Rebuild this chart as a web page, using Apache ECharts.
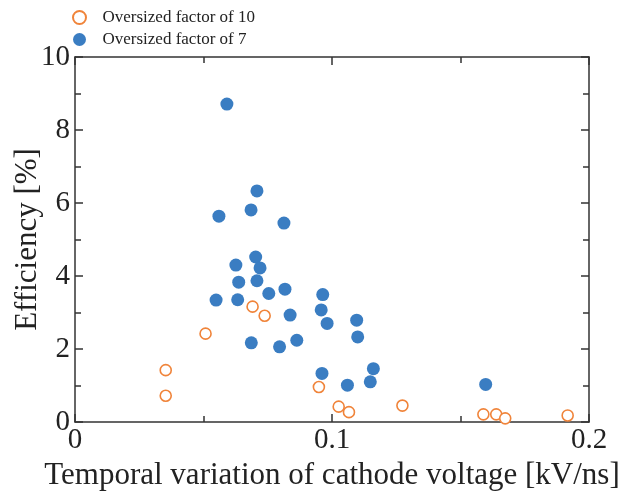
<!DOCTYPE html>
<html>
<head>
<meta charset="utf-8">
<script src="https://cdn.jsdelivr.net/npm/echarts@6/dist/echarts.min.js"></script>
<style>
  html, body { margin: 0; padding: 0; background: #fff; }
  #main { width: 631px; height: 497px; }
</style>
</head>
<body>
<div id="main"></div>
<script>
// Oversized factor of 10 (open orange circles)
var f10X = [0.0353, 0.0353, 0.0508, 0.0691, 0.0738, 0.0949, 0.1026, 0.1066, 0.1274, 0.1589, 0.1639, 0.1674, 0.1917];
var f10Y = [1.42, 0.72, 2.42, 3.16, 2.91, 0.96, 0.42, 0.27, 0.45, 0.21, 0.21, 0.10, 0.18];

// Oversized factor of 7 (filled blue circles)
var f7X = [0.0591, 0.0708, 0.0560, 0.0685, 0.0813, 0.0703, 0.0626, 0.0720, 0.0637, 0.0708,
           0.0754, 0.0817, 0.0549, 0.0633, 0.0837, 0.0964, 0.0958, 0.0981, 0.1096, 0.1100,
           0.0686, 0.0796, 0.0863, 0.0961, 0.1060, 0.1161, 0.1149, 0.1598];
var f7Y = [8.71, 6.33, 5.64, 5.81, 5.45, 4.52, 4.30, 4.22, 3.83, 3.87,
           3.52, 3.64, 3.34, 3.35, 2.93, 3.49, 3.07, 2.70, 2.79, 2.33,
           2.17, 2.06, 2.24, 1.33, 1.01, 1.46, 1.10, 1.03];

var xTicks = ['0', '0.1', '0.2'];

function pairs(xs, ys) {
    return xs.map(function(x, i) { return [x, ys[i]]; });
}

var font = 'Liberation Serif, Times New Roman, serif';
var axisColor = '#333';
var tickStyle = { color: axisColor, width: 1.5 };

var chart = echarts.init(document.getElementById('main'));
var option = {
    backgroundColor: '#fff',
    animation: false,
    grid: { left: 75, right: 42, top: 57, bottom: 75, containLabel: false, outerBoundsMode: 'none' },
    legend: {
        orient: 'vertical',
        left: 67,
        top: 4,
        itemGap: 5,
        itemWidth: 14,
        itemHeight: 13,
        textStyle: { fontFamily: font, fontSize: 17, color: '#222', padding: [0, 0, 0, 11] },
        data: ['Oversized factor of 10', 'Oversized factor of 7']
    },
    xAxis: [{
        type: 'value',
        min: 0, max: 0.2, interval: 0.1,
        name: 'Temporal variation of cathode voltage [kV/ns]',
        nameLocation: 'middle',
        nameGap: 32,
        nameTextStyle: { fontFamily: font, fontSize: 31, color: '#222' },
        axisLine: { onZero: false, lineStyle: tickStyle },
        axisTick: { inside: true, length: 8, lineStyle: tickStyle },
        minorTick: { show: true, splitNumber: 2, length: 6, lineStyle: tickStyle },
        axisLabel: {
            fontFamily: font, fontSize: 29, color: '#222', margin: 4,
            formatter: function(v) { return xTicks[Math.round(v * 10)]; }
        },
        splitLine: { show: false }
    }, {
        type: 'value', position: 'top',
        min: 0, max: 0.2, interval: 0.1,
        axisLine: { show: true, onZero: false, lineStyle: tickStyle },
        axisTick: { inside: true, length: 8, lineStyle: tickStyle },
        minorTick: { show: true, splitNumber: 2, length: 6, lineStyle: tickStyle },
        axisLabel: { show: false },
        splitLine: { show: false }
    }],
    yAxis: [{
        type: 'value',
        min: 0, max: 10, interval: 2,
        name: 'Efficiency [%]',
        nameLocation: 'middle',
        nameGap: 32,
        nameMoveOverlap: false,
        nameTextStyle: { fontFamily: font, fontSize: 31, color: '#222' },
        axisLine: { onZero: false, lineStyle: tickStyle },
        axisTick: { inside: true, length: 8, lineStyle: tickStyle },
        minorTick: { show: true, splitNumber: 2, length: 6, lineStyle: tickStyle },
        axisLabel: { fontFamily: font, fontSize: 29, color: '#222', margin: 5 },
        splitLine: { show: false }
    }, {
        type: 'value', position: 'right',
        min: 0, max: 10, interval: 2,
        axisLine: { show: true, onZero: false, lineStyle: tickStyle },
        axisTick: { inside: true, length: 8, lineStyle: tickStyle },
        minorTick: { show: true, splitNumber: 2, length: 6, lineStyle: tickStyle },
        axisLabel: { show: false },
        splitLine: { show: false }
    }],
    series: [{
        name: 'Oversized factor of 10',
        type: 'scatter',
        symbol: 'circle',
        symbolSize: 11,
        itemStyle: { color: '#fff', borderColor: '#F0843A', borderWidth: 1.6, opacity: 1 },
        data: pairs(f10X, f10Y)
    }, {
        name: 'Oversized factor of 7',
        type: 'scatter',
        symbol: 'circle',
        symbolSize: 13,
        itemStyle: { color: '#3A7DC2', opacity: 1 },
        data: pairs(f7X, f7Y)
    }]
};
chart.setOption(option);
</script>
</body>
</html>
